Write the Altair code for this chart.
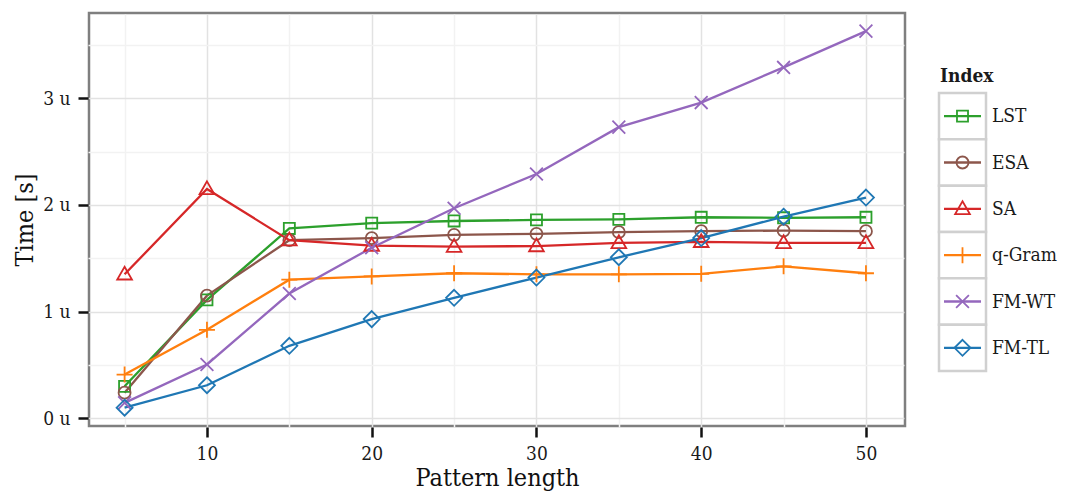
import altair as alt
import pandas as pd

# ---- data ----
pattern_length = [5, 10, 15, 20, 25, 30, 35, 40, 45, 50]
lst_time = [0.30, 1.11, 1.78, 1.83, 1.85, 1.86, 1.865, 1.885, 1.88, 1.885]
esa_time = [0.24, 1.15, 1.67, 1.69, 1.72, 1.73, 1.745, 1.755, 1.76, 1.755]
sa_time = [1.35, 2.15, 1.67, 1.62, 1.61, 1.615, 1.645, 1.655, 1.645, 1.645]
qgram_time = [0.41, 0.83, 1.30, 1.33, 1.36, 1.35, 1.35, 1.355, 1.425, 1.36]
fmwt_time = [0.145, 0.505, 1.17, 1.60, 1.97, 2.29, 2.73, 2.96, 3.29, 3.63]
fmtl_time = [0.10, 0.31, 0.68, 0.93, 1.13, 1.32, 1.51, 1.69, 1.89, 2.07]

index_names = ["LST", "ESA", "SA", "q-Gram", "FM-WT", "FM-TL"]
x_tick_values = [5, 10, 15, 20, 25, 30, 35, 40, 45, 50]
y_tick_values = [0, 0.5, 1, 1.5, 2, 2.5, 3, 3.5]

# ---- styles ----
FONT = "DejaVu Serif Condensed, DejaVu Serif"
colors = ["#2ca02c", "#8c564b", "#d62728", "#ff7f0e", "#9467bd", "#1f77b4"]
shapes = [
    "M-0.69,-0.69H0.69V0.69H-0.69Z",
    "M-0.75,0A0.75,0.75,0,1,0,0.75,0A0.75,0.75,0,1,0,-0.75,0Z",
    "M0,-0.95L0.92,0.65L-0.92,0.65Z",
    "M-1,0H1M0,-1V1",
    "M-0.8,-0.8L0.8,0.8M-0.8,0.8L0.8,-0.8",
    "M0,-1L1,0L0,1L-1,0Z",
]

series = [lst_time, esa_time, sa_time, qgram_time, fmwt_time, fmtl_time]
rows = []
for name, vals in zip(index_names, series):
    for x, v in zip(pattern_length, vals):
        rows.append({"Index": name, "length": x, "time": v})
df = pd.DataFrame(rows)

color_scale = alt.Scale(domain=index_names, range=colors)
shape_scale = alt.Scale(domain=index_names, range=shapes)

major_x = "datum.value % 10 === 0"
major_y = "datum.value % 1 === 0"

x_enc = alt.X(
    "length:Q",
    scale=alt.Scale(domain=[2.84, 52.37], nice=False, zero=False),
    axis=alt.Axis(
        values=x_tick_values,
        title="Pattern length",
        labelExpr=f"{major_x} ? datum.label : ''",
        gridColor={"condition": {"test": major_x, "value": "#e2e2e2"}, "value": "#f2f2f2"},
        tickOpacity={"condition": {"test": major_x, "value": 1}, "value": 0},
        labelOverlap=False,
        labelFlush=False,
        labelPadding=7,
        titlePadding=2,
    ),
)
y_enc = alt.Y(
    "time:Q",
    scale=alt.Scale(domain=[-0.072, 3.8], nice=False, zero=False),
    axis=alt.Axis(
        values=y_tick_values,
        title="Time [s]",
        labelExpr=f"{major_y} ? datum.value + ' u' : ''",
        gridColor={"condition": {"test": major_y, "value": "#e2e2e2"}, "value": "#f2f2f2"},
        tickOpacity={"condition": {"test": major_y, "value": 1}, "value": 0},
        labelOverlap=False,
        labelFlush=False,
        labelPadding=8,
        titlePadding=5,
    ),
)
color_enc = alt.Color("Index:N", scale=color_scale, legend=None)
shape_enc = alt.Shape("Index:N", scale=shape_scale, legend=None)

lines = alt.Chart(df).mark_line(strokeWidth=2.3).encode(
    x=x_enc, y=y_enc, color=color_enc, detail="Index:N"
)
points = alt.Chart(df).mark_point(
    filled=False, size=256, strokeWidth=1.8, opacity=1
).encode(x=x_enc, y=y_enc, color=color_enc, shape=shape_enc)

main = alt.layer(lines, points).properties(
    width=816,
    height=413,
    view=alt.ViewBackground(stroke="#7f7f7f", strokeWidth=2.5),
)

# ---- legend panel, built from the same categories ----
leg_df = pd.DataFrame({"Index": index_names})
band_y = alt.Y(
    "Index:N",
    sort=index_names,
    scale=alt.Scale(type="band", paddingInner=0, paddingOuter=0, range=[80, 358]),
    axis=None,
)
boxes = alt.Chart(leg_df).mark_rect(
    fill="white", stroke="#d0d0d0", strokeWidth=2.5
).encode(y=band_y, x=alt.value(0), x2=alt.value(47))
leg_lines = alt.Chart(leg_df).mark_rule(strokeWidth=2.3).encode(
    y=band_y, x=alt.value(5), x2=alt.value(42), color=color_enc
)
leg_points = alt.Chart(leg_df).mark_point(
    filled=False, size=256, strokeWidth=1.8, opacity=1
).encode(y=band_y, x=alt.value(23.5), color=color_enc, shape=shape_enc)
leg_labels = alt.Chart(leg_df).mark_text(
    align="left", baseline="middle", fontSize=19, color="#1a1a1a", font=FONT
).encode(y=band_y, x=alt.value(53), text="Index:N")
leg_title = alt.Chart(pd.DataFrame({"t": ["Index"]})).mark_text(
    align="left", baseline="middle", fontSize=19, fontWeight="bold", color="#1a1a1a", font=FONT
).encode(x=alt.value(1), y=alt.value(63), text="t:N")

legend_panel = alt.layer(boxes, leg_lines, leg_points, leg_labels, leg_title).properties(
    width=112,
    height=413,
    view=alt.ViewBackground(stroke="transparent"),
)

chart = (
    alt.hconcat(main, legend_panel, spacing=30)
    .configure(font=FONT, padding={"left": 3, "top": 3, "right": 0, "bottom": 0})
    .configure_axis(
        domain=False,
        tickColor="#111111",
        tickWidth=2.5,
        tickSize=10,
        offset=1,
        gridWidth=1.5,
        labelFont=FONT,
        titleFont=FONT,
        labelFontSize=19,
        labelColor="#1a1a1a",
        titleFontSize=25,
        titleFontWeight="normal",
        titleColor="#111111",
    )
)

chart.save("out.html", embed_options={"renderer": "svg", "actions": False})
